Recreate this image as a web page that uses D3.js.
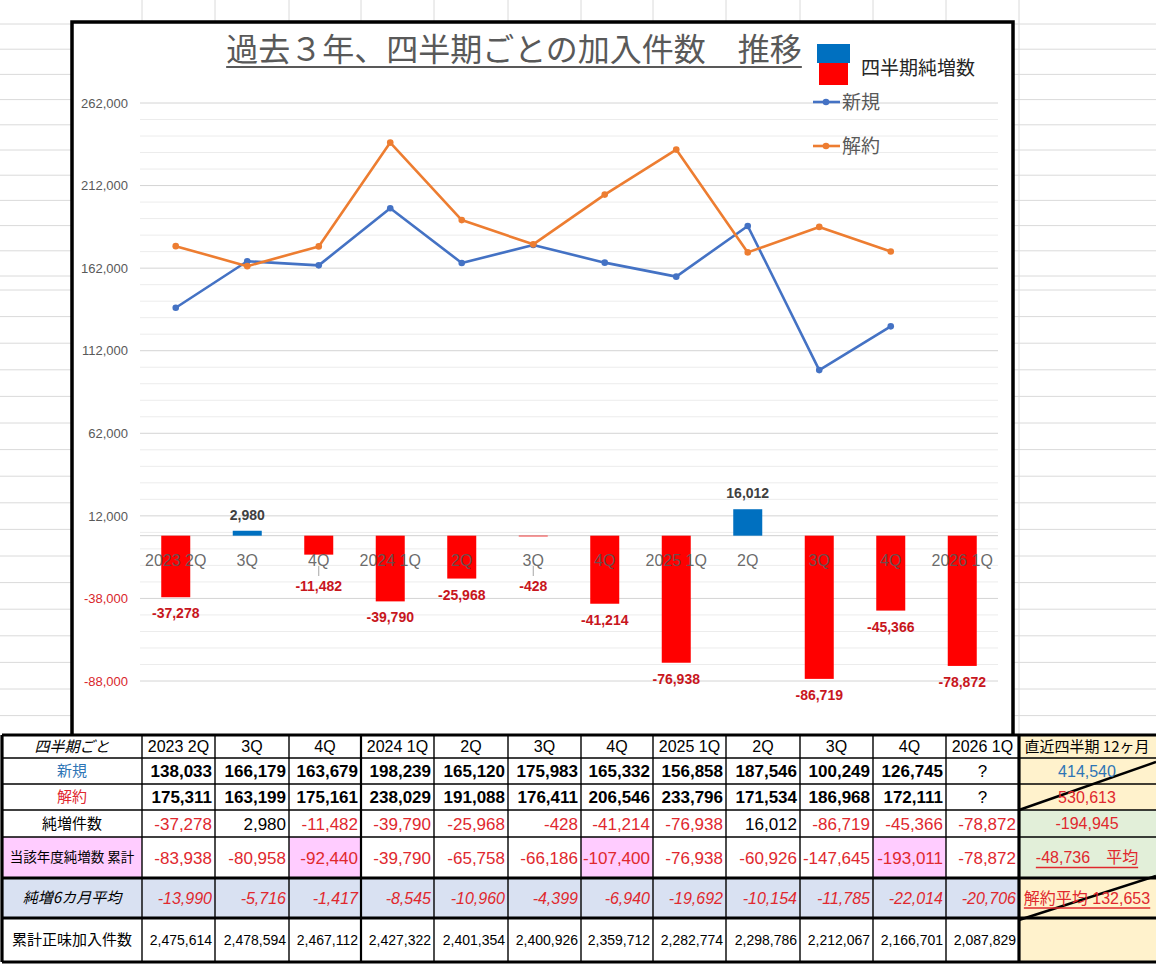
<!DOCTYPE html>
<html>
<head>
<meta charset="utf-8">
<script src="https://cdn.jsdelivr.net/npm/d3@7"></script>
<style>
  body { margin: 0; background: #fff; }
  svg { display: block; }
</style>
</head>
<body>
<div id="chart"></div>
<script>
// Data
var quarters = ["2023 2Q", "3Q", "4Q", "2024 1Q", "2Q", "3Q", "4Q", "2025 1Q", "2Q", "3Q", "4Q", "2026 1Q"];
var newCount = [138033, 166179, 163679, 198239, 165120, 175983, 165332, 156858, 187546, 100249, 126745, null];
var cancelCount = [175311, 163199, 175161, 238029, 191088, 176411, 206546, 233796, 171534, 186968, 172111, null];
var netIncrease = [-37278, 2980, -11482, -39790, -25968, -428, -41214, -76938, 16012, -86719, -45366, -78872];
var fiscalCumulative = [-83938, -80958, -92440, -39790, -65758, -66186, -107400, -76938, -60926, -147645, -193011, -78872];
var avg6Month = [-13990, -5716, -1417, -8545, -10960, -4399, -6940, -19692, -10154, -11785, -22014, -20706];
var totalNet = [2475614, 2478594, 2467112, 2427322, 2401354, 2400926, 2359712, 2282774, 2298786, 2212067, 2166701, 2087829];
var yTickValues = [-88000, -38000, 12000, 62000, 112000, 162000, 212000, 262000];
var rowLabels = ["四半期ごと", "新規", "解約", "純増件数", "当該年度純増数 累計", "純増6カ月平均", "累計正味加入件数"];
var summaryHeader = "直近四半期 12ヶ月";
var summaryTexts = ["414,540", "530,613", "-194,945", "-48,736　平均", "解約平均 132,653", ""];

var W = 1156, H = 964;
var JP = "'Noto Sans CJK JP', sans-serif";
var LAT = "'Liberation Sans', Arial, sans-serif";
var RED = "#e0282e";
// plain hyphen for negatives, like the sheet
var fmt = d3.formatLocale({ decimal: ".", thousands: ",", grouping: [3], currency: ["", ""], minus: "-" }).format(",");

var svg = d3.select("#chart").append("svg")
    .attr("width", W)
    .attr("height", H);

// spreadsheet background grid
var colEdges = [2, 142, 215, 289, 361, 434, 508, 581, 653, 726, 800, 873, 946, 1019, 1156];
var sheetRows = d3.range(24, 290, 25.2).concat(d3.range(290, 735, 26.6));
svg.append("g").selectAll("line")
  .data(sheetRows)
  .enter().append("line")
    .attr("x1", 0).attr("x2", W)
    .attr("y1", function(d) { return d; }).attr("y2", function(d) { return d; })
    .attr("stroke", "#dadada");
svg.append("g").selectAll("line")
  .data(colEdges.slice(1, -1))
  .enter().append("line")
    .attr("x1", function(d) { return d; }).attr("x2", function(d) { return d; })
    .attr("y1", 0).attr("y2", 735)
    .attr("stroke", "#dadada");

// chart frame
svg.append("rect")
    .attr("x", 72).attr("y", 22)
    .attr("width", 941).attr("height", 714)
    .attr("fill", "#fff")
    .attr("stroke", "#000")
    .attr("stroke-width", 3.5);

// scales
var x = d3.scaleBand()
    .domain(d3.range(quarters.length))
    .range([140, 998]);
var y = d3.scaleLinear()
    .domain([-88000, 262000])
    .range([681, 103]);
var cx = function(i) { return x(i) + x.bandwidth() / 2; };

// gridlines
svg.append("g").selectAll("line")
  .data(d3.range(-88000, 262001, 10000))
  .enter().append("line")
    .attr("x1", 140).attr("x2", 998)
    .attr("y1", function(d) { return y(d); }).attr("y2", function(d) { return y(d); })
    .attr("stroke", function(d) { return yTickValues.indexOf(d) >= 0 ? "#d4d4d4" : "#ececec"; });

svg.append("line")
    .attr("x1", 140).attr("x2", 998)
    .attr("y1", y(0)).attr("y2", y(0))
    .attr("stroke", "#d0d0d0");

// y axis
var yAxis = svg.append("g")
    .attr("transform", "translate(140,0)")
    .call(d3.axisLeft(y).tickValues(yTickValues).tickFormat(fmt).tickSize(0).tickPadding(12));
yAxis.select(".domain").remove();
yAxis.selectAll("text")
    .attr("font-family", LAT)
    .attr("font-size", 13)
    .attr("fill", function(d) { return d < 0 ? "#d9262b" : "#595959"; });

// bars
var barW = 29;
svg.append("g").selectAll("rect")
  .data(netIncrease)
  .enter().append("rect")
    .attr("x", function(d, i) { return cx(i) - barW / 2; })
    .attr("y", function(d) { return y(Math.max(0, d)); })
    .attr("width", barW)
    .attr("height", function(d) { return Math.abs(y(d) - y(0)); })
    .attr("fill", function(d) { return d >= 0 ? "#0070c0" : "#ff0000"; });

// label positions (labels too close to the axis were pushed below the category text)
function labelCenter(d) {
  return d >= 0 ? y(d) - 16 : Math.max(y(d) + 16, 586);
}

// leader lines for moved labels
svg.append("g").selectAll("line")
  .data(netIncrease.map(function(d, i) { return { v: d, i: i }; })
    .filter(function(o) { return o.v < 0 && y(o.v) + 16 < 586; }))
  .enter().append("line")
    .attr("x1", function(o) { return cx(o.i); }).attr("x2", function(o) { return cx(o.i); })
    .attr("y1", function(o) { return Math.max(y(o.v), 566); })
    .attr("y2", 576)
    .attr("stroke", "#a6a6a6");

// x axis labels (drawn over the bars)
var xAxis = svg.append("g")
    .attr("transform", "translate(0," + y(0) + ")")
    .call(d3.axisBottom(x).tickFormat(function(i) { return quarters[i]; }).tickSize(0).tickPadding(19));
xAxis.select(".domain").remove();
xAxis.selectAll("text")
    .attr("font-family", LAT)
    .attr("font-size", 16)
    .attr("fill", "#595959")
    .attr("fill-opacity", 0.9);

// bar value labels
svg.append("g").selectAll("text")
  .data(netIncrease)
  .enter().append("text")
    .attr("x", function(d, i) { return cx(i); })
    .attr("y", function(d) { return labelCenter(d); })
    .attr("dy", "0.36em")
    .attr("text-anchor", "middle")
    .attr("font-family", LAT)
    .attr("font-weight", "bold")
    .attr("font-size", 14)
    .attr("fill", function(d) { return d >= 0 ? "#404040" : "#c8161d"; })
    .text(function(d) { return fmt(d); });

// lines
var series = [
  { name: "新規", values: newCount, color: "#4472c4" },
  { name: "解約", values: cancelCount, color: "#ed7d31" }
];
var line = d3.line()
    .defined(function(d) { return d != null; })
    .x(function(d, i) { return cx(i); })
    .y(function(d) { return y(d); });
series.forEach(function(s) {
  svg.append("path")
      .datum(s.values)
      .attr("d", line)
      .attr("fill", "none")
      .attr("stroke", s.color)
      .attr("stroke-width", 2.6)
      .attr("stroke-linejoin", "round");
  svg.append("g").selectAll("circle")
    .data(s.values.map(function(v, i) { return { v: v, i: i }; }).filter(function(o) { return o.v != null; }))
    .enter().append("circle")
      .attr("cx", function(o) { return cx(o.i); })
      .attr("cy", function(o) { return y(o.v); })
      .attr("r", 3.3)
      .attr("fill", s.color);
});

// title
var title = svg.append("text")
    .attr("x", 514).attr("y", 61)
    .attr("text-anchor", "middle")
    .attr("font-family", JP)
    .attr("font-size", 32)
    .attr("fill", "#595959")
    .text("過去３年、四半期ごとの加入件数　推移");
var tb = title.node().getBBox();
svg.append("line")
    .attr("x1", tb.x).attr("x2", tb.x + tb.width)
    .attr("y1", 67).attr("y2", 67)
    .attr("stroke", "#595959").attr("stroke-width", 2);

// legend
var legend = svg.append("g");
legend.append("rect").attr("x", 817).attr("y", 44).attr("width", 33).attr("height", 19).attr("fill", "#0070c0");
legend.append("rect").attr("x", 819).attr("y", 63).attr("width", 29).attr("height", 22).attr("fill", "#ff0000");
legend.append("text")
    .attr("x", 861).attr("y", 68).attr("dy", "0.36em")
    .attr("font-family", JP).attr("font-size", 19).attr("fill", "#262626")
    .text("四半期純増数");
series.forEach(function(s, k) {
  var ly = 102 + k * 44;
  legend.append("line").attr("x1", 813).attr("x2", 840).attr("y1", ly).attr("y2", ly)
      .attr("stroke", s.color).attr("stroke-width", 2.6);
  legend.append("circle").attr("cx", 826).attr("cy", ly).attr("r", 3.3).attr("fill", s.color);
  legend.append("text")
      .attr("x", 842).attr("y", ly).attr("dy", "0.36em")
      .attr("font-family", JP).attr("font-size", 19).attr("fill", "#595959")
      .text(s.name);
});

// ---- table ----
var rowEdges = [735, 758, 784, 810, 837, 878, 918, 962];
var table = svg.append("g");

// cell fills
rowEdges.slice(0, -1).forEach(function(top, r) {
  var h = rowEdges[r + 1] - top;
  table.append("rect").attr("x", 2).attr("y", top).attr("width", 1017).attr("height", h)
      .attr("fill", r === 5 ? "#d9e1f2" : "#fff");
  table.append("rect").attr("x", 1019).attr("y", top).attr("width", 137).attr("height", h)
      .attr("fill", (r === 3 || r === 4) ? "#e2efd9" : "#fff2cc");
});
table.append("rect").attr("x", 2).attr("y", rowEdges[4]).attr("width", 140)
    .attr("height", rowEdges[5] - rowEdges[4]).attr("fill", "#ffccff");
quarters.forEach(function(q, i) {
  if (q === "4Q") {
    table.append("rect").attr("x", colEdges[i + 1]).attr("y", rowEdges[4])
        .attr("width", colEdges[i + 2] - colEdges[i + 1]).attr("height", rowEdges[5] - rowEdges[4])
        .attr("fill", "#ffccff");
  }
});

// borders
rowEdges.forEach(function(yy, r) {
  var thick = (r === 0 || r === 5 || r === 6 || r === 7);
  table.append("line").attr("x1", 2).attr("x2", W).attr("y1", yy).attr("y2", yy)
      .attr("stroke", "#000").attr("stroke-width", thick ? 3.2 : 1.4);
});
colEdges.slice(0, -1).forEach(function(xx, c) {
  var w = (c === 0 || c === 13) ? 3.2 : (c === 4 ? 2.2 : 1.4);
  table.append("line").attr("x1", xx).attr("x2", xx).attr("y1", 735).attr("y2", 962)
      .attr("stroke", "#000").attr("stroke-width", w);
});
table.append("line").attr("x1", 1019).attr("y1", 810).attr("x2", 1156).attr("y2", 762)
    .attr("stroke", "#000").attr("stroke-width", 2.5);
table.append("line").attr("x1", 1019).attr("y1", 920).attr("x2", 1156).attr("y2", 876)
    .attr("stroke", "#000").attr("stroke-width", 2.5);

function rowMid(r) { return (rowEdges[r] + rowEdges[r + 1]) / 2; }

// row labels
var labelColors = ["#000", "#2e75b6", RED, "#000", "#000", "#000", "#000"];
table.selectAll("text.lab")
  .data(rowLabels)
  .enter().append("text")
    .attr("class", "lab")
    .attr("x", 72)
    .attr("y", function(d, r) { return rowMid(r); })
    .attr("dy", "0.36em")
    .attr("text-anchor", "middle")
    .attr("font-family", JP)
    .attr("font-size", function(d, r) { return r === 4 ? 13.5 : 15; })
    .attr("font-style", function(d, r) { return (r === 0 || r === 5) ? "italic" : "normal"; })
    .attr("fill", function(d, r) { return labelColors[r]; })
    .text(function(d) { return d; });

// header row
table.selectAll("text.hdr")
  .data(quarters)
  .enter().append("text")
    .attr("class", "hdr")
    .attr("x", function(d, i) { return (colEdges[i + 1] + colEdges[i + 2]) / 2; })
    .attr("y", rowMid(0))
    .attr("dy", "0.36em")
    .attr("text-anchor", "middle")
    .attr("font-family", LAT)
    .attr("font-size", 16)
    .attr("fill", "#000")
    .text(function(d) { return d; });

// value rows
var valueRows = [
  { r: 1, data: newCount, size: 17, weight: "bold", italic: false },
  { r: 2, data: cancelCount, size: 17, weight: "bold", italic: false },
  { r: 3, data: netIncrease, size: 17, weight: "normal", italic: false },
  { r: 4, data: fiscalCumulative, size: 17, weight: "normal", italic: false },
  { r: 5, data: avg6Month, size: 16, weight: "normal", italic: true },
  { r: 6, data: totalNet, size: 14, weight: "normal", italic: false }
];
valueRows.forEach(function(row) {
  table.append("g").selectAll("text")
    .data(row.data)
    .enter().append("text")
      .attr("x", function(d, i) {
        return d == null ? (colEdges[i + 1] + colEdges[i + 2]) / 2 : colEdges[i + 2] - 3;
      })
      .attr("y", rowMid(row.r))
      .attr("dy", "0.36em")
      .attr("text-anchor", function(d) { return d == null ? "middle" : "end"; })
      .attr("font-family", LAT)
      .attr("font-size", row.size)
      .attr("font-weight", function(d) { return d == null ? "normal" : row.weight; })
      .attr("font-style", row.italic ? "italic" : "normal")
      .attr("fill", function(d) { return d != null && d < 0 ? RED : "#000"; })
      .text(function(d) { return d == null ? "?" : fmt(d); });
});

// summary column
table.append("text")
    .attr("x", 1087).attr("y", rowMid(0)).attr("dy", "0.36em")
    .attr("text-anchor", "middle")
    .attr("font-family", JP).attr("font-size", 15).attr("fill", "#000")
    .text(summaryHeader);
summaryTexts.forEach(function(t, k) {
  var r = k + 1;
  var txt = table.append("text")
      .attr("x", 1087).attr("y", rowMid(r)).attr("dy", "0.36em")
      .attr("text-anchor", "middle")
      .attr("font-family", LAT + ", " + JP)
      .attr("font-size", 16)
      .attr("fill", r === 1 ? "#2e75b6" : RED)
      .text(t);
  if (r === 4 || r === 5) {
    var b = txt.node().getBBox();
    table.append("line")
        .attr("x1", b.x).attr("x2", b.x + b.width)
        .attr("y1", rowMid(r) + 10).attr("y2", rowMid(r) + 10)
        .attr("stroke", RED).attr("stroke-width", 1.3);
  }
});
</script>
</body>
</html>
